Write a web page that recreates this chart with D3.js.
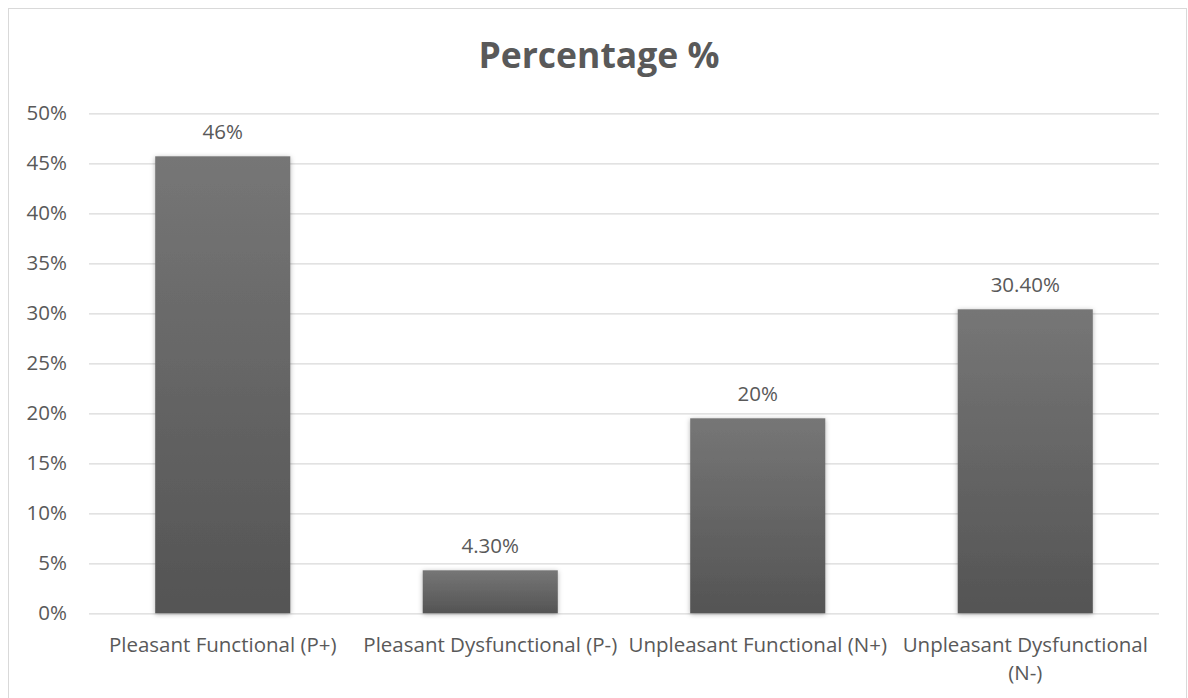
<!DOCTYPE html>
<html><head><meta charset="utf-8">
<script src="https://cdn.jsdelivr.net/npm/d3@7"></script>
<style>body{margin:0;background:#fff}svg{display:block}</style>
</head><body><svg id="c" width="1188" height="698"></svg>
<script>
const categories = ["Pleasant Functional (P+)", "Pleasant Dysfunctional (P-)", "Unpleasant Functional (N+)", "Unpleasant Dysfunctional (N-)"];
const values = [45.7, 4.3, 19.5, 30.4];
const valueLabels = ["46%", "4.30%", "20%", "30.40%"];
const yTicks = [0, 5, 10, 15, 20, 25, 30, 35, 40, 45, 50];
const title = "Percentage %";

const svg = d3.select("#c");
const font = "'Open Sans', 'Noto Sans', sans-serif";
const txt = "#595959";
const fs = 20.5;
const m = {left: 89, right: 1159, top: 113.3, bottom: 613.3};

svg.append("rect").attr("x", 8.5).attr("y", 8.5).attr("width", 1178).attr("height", 700)
  .attr("fill", "#fff").attr("stroke", "#d9d9d9");

const defs = svg.append("defs");
const g = defs.append("linearGradient").attr("id", "bg").attr("x1", 0).attr("y1", 0).attr("x2", 0).attr("y2", 1);
g.append("stop").attr("offset", "0%").attr("stop-color", "#767676");
g.append("stop").attr("offset", "100%").attr("stop-color", "#545454");
const f = defs.append("filter").attr("id", "sh").attr("x", "-20%").attr("y", "-20%").attr("width", "140%").attr("height", "140%");
f.append("feDropShadow").attr("dx", 0).attr("dy", 1).attr("stdDeviation", 2.5).attr("flood-color", "#000").attr("flood-opacity", 0.3);

const x = d3.scaleBand().domain(categories).range([m.left, m.right]).paddingInner(0.495).paddingOuter(0.2475);
const y = d3.scaleLinear().domain([0, 50]).range([m.bottom, m.top]);

svg.append("text").attr("x", 599).attr("y", 68).attr("text-anchor", "middle")
  .attr("font-family", font).attr("font-weight", "bold").attr("font-size", 35.5).attr("fill", txt).text(title);

const ya = d3.axisLeft(y).tickValues(yTicks).tickFormat(d => d + "%").tickSize(-(m.right - m.left)).tickPadding(22);
const yg = svg.append("g").attr("transform", `translate(${m.left},0)`).call(ya);
yg.select(".domain").remove();
yg.selectAll(".tick line").attr("stroke", "#d9d9d9").attr("stroke-width", 1.3);
yg.selectAll(".tick text").attr("font-family", font).attr("font-size", fs).attr("fill", txt);

svg.append("g").selectAll("rect").data(categories).join("rect")
  .attr("x", d => x(d)).attr("width", x.bandwidth())
  .attr("y", (d, i) => y(values[i])).attr("height", (d, i) => y(0) - y(values[i]))
  .attr("fill", "url(#bg)").attr("filter", "url(#sh)");

svg.append("g").selectAll("text").data(categories).join("text")
  .attr("x", d => x(d) + x.bandwidth() / 2).attr("y", (d, i) => y(values[i]) - 17)
  .attr("text-anchor", "middle").attr("font-family", font).attr("font-size", fs).attr("fill", txt)
  .text((d, i) => valueLabels[i]);

const xa = d3.axisBottom(x).tickSize(0).tickPadding(0);
const xg = svg.append("g").attr("transform", `translate(0,${m.bottom})`).call(xa);
xg.select(".domain").remove();
xg.selectAll(".tick text").attr("font-family", font).attr("font-size", fs).attr("fill", txt)
  .attr("dy", null).attr("y", 38.5)
  .each(function(d) {
    const t = d3.select(this);
    const maxW = 270;
    const words = d.split(" ");
    t.text(null);
    let line = [], tspan = t.append("tspan").attr("x", 0).attr("y", 38.5), n = 0;
    for (const w of words) {
      line.push(w);
      tspan.text(line.join(" "));
      if (tspan.node().getComputedTextLength() > maxW && line.length > 1) {
        line.pop(); tspan.text(line.join(" "));
        line = [w]; n++;
        tspan = t.append("tspan").attr("x", 0).attr("y", 38.5 + n * 28).text(w);
      }
    }
  });
</script></body></html>
